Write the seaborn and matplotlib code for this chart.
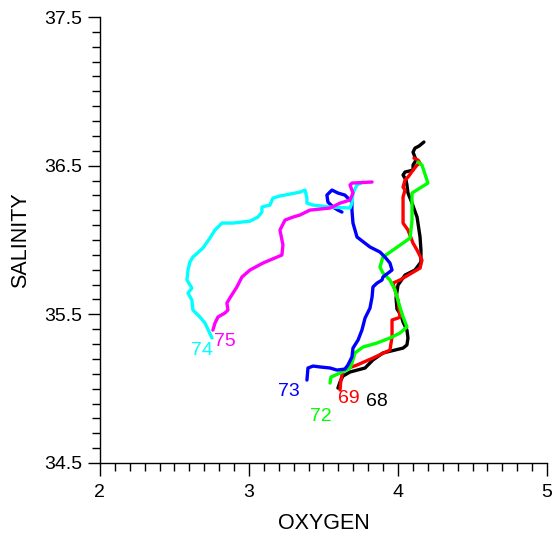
"""
Oxygen vs salinity profiles for stations 68-75
"""

import numpy as np
import pandas as pd
import matplotlib
matplotlib.use("Agg")
import matplotlib.pyplot as plt
import seaborn as sns
from matplotlib.ticker import MultipleLocator, FixedLocator

# station 68 (black)
ox_68 = [3.597, 3.611, 3.631, 3.678, 3.779, 3.832, 3.899, 4.034, 4.060, 4.067, 4.060, 4.034,
         4.020, 3.993, 3.987, 4.000, 4.047, 4.114, 4.154, 4.154, 4.148, 4.128, 4.094, 4.067,
         4.060, 4.054, 4.034, 4.047, 4.101, 4.101, 4.121, 4.101, 4.114, 4.141, 4.174]
sal_68 = [35.004, 35.045, 35.085, 35.112, 35.139, 35.193, 35.240, 35.273, 35.294, 35.341, 35.394, 35.448,
          35.495, 35.536, 35.610, 35.697, 35.764, 35.798, 35.852, 35.932, 36.020, 36.154, 36.248, 36.316,
          36.370, 36.403, 36.437, 36.457, 36.470, 36.504, 36.538, 36.591, 36.618, 36.632, 36.659]

# station 69 (red)
ox_69 = [3.611, 3.617, 3.631, 3.725, 3.832, 3.946, 3.960, 3.960, 4.000, 4.013, 4.000, 3.980,
         3.966, 4.013, 4.148, 4.161, 4.128, 4.101, 4.067, 4.034, 4.034, 4.034, 4.047, 4.034,
         4.047, 4.067, 4.101, 4.128, 4.148, 4.134, 4.107]
sal_69 = [34.991, 35.058, 35.125, 35.159, 35.206, 35.260, 35.347, 35.462, 35.475, 35.482, 35.596, 35.663,
          35.710, 35.731, 35.811, 35.865, 35.932, 35.979, 36.067, 36.114, 36.222, 36.289, 36.336, 36.356,
          36.403, 36.423, 36.470, 36.504, 36.517, 36.538, 36.551]

# station 72 (green)
ox_72 = [3.544, 3.550, 3.611, 3.678, 3.691, 3.711, 3.765, 3.859, 3.946, 4.013, 4.060, 4.034,
         4.013, 3.980, 3.946, 3.899, 3.879, 3.893, 3.899, 3.966, 4.081, 4.094, 4.094, 4.201,
         4.161, 4.134]
sal_72 = [35.038, 35.078, 35.105, 35.139, 35.172, 35.240, 35.280, 35.307, 35.341, 35.374, 35.415, 35.482,
          35.549, 35.663, 35.731, 35.778, 35.818, 35.865, 35.885, 35.932, 36.013, 36.134, 36.316, 36.383,
          36.504, 36.524]

# station 73 (blue)
ox_73 = [3.389, 3.396, 3.430, 3.477, 3.544, 3.591, 3.644, 3.664, 3.691, 3.698, 3.732, 3.758,
         3.779, 3.812, 3.826, 3.832, 3.859, 3.893, 3.899, 3.960, 3.946, 3.913, 3.879, 3.812,
         3.725, 3.698, 3.691, 3.691, 3.644, 3.597, 3.557, 3.523, 3.530, 3.564, 3.597, 3.624]
sal_73 = [35.058, 35.139, 35.152, 35.146, 35.139, 35.125, 35.132, 35.159, 35.213, 35.273, 35.327, 35.394,
          35.475, 35.542, 35.616, 35.684, 35.710, 35.731, 35.751, 35.798, 35.845, 35.885, 35.919, 35.953,
          36.020, 36.114, 36.201, 36.255, 36.302, 36.316, 36.336, 36.302, 36.255, 36.222, 36.201, 36.188]

# station 74 (cyan)
ox_74 = [2.752, 2.705, 2.671, 2.624, 2.617, 2.591, 2.617, 2.584, 2.591, 2.604, 2.624, 2.691,
         2.738, 2.772, 2.819, 2.893, 3.007, 3.060, 3.087, 3.087, 3.141, 3.161, 3.208, 3.275,
         3.342, 3.376, 3.389, 3.389, 3.430, 3.544, 3.678, 3.691, 3.698, 3.725, 3.765]
sal_74 = [35.341, 35.441, 35.482, 35.529, 35.596, 35.643, 35.677, 35.731, 35.798, 35.852, 35.885, 35.946,
          36.013, 36.067, 36.114, 36.114, 36.127, 36.154, 36.188, 36.222, 36.235, 36.282, 36.296, 36.309,
          36.322, 36.336, 36.282, 36.248, 36.235, 36.222, 36.215, 36.248, 36.316, 36.370, 36.390]

# station 75 (magenta)
ox_75 = [2.758, 2.772, 2.792, 2.839, 2.859, 2.852, 2.872, 2.919, 2.953, 3.007, 3.094, 3.221,
         3.228, 3.208, 3.242, 3.295, 3.342, 3.409, 3.544, 3.611, 3.678, 3.698, 3.678, 3.691, 3.826]
sal_75 = [35.394, 35.441, 35.482, 35.509, 35.529, 35.576, 35.610, 35.684, 35.751, 35.798, 35.845, 35.899,
          35.966, 36.067, 36.134, 36.154, 36.168, 36.201, 36.215, 36.248, 36.269, 36.316, 36.370, 36.383, 36.390]

stations = ["68", "69", "72", "73", "74", "75"]
colors = ["black", "#ff0000", "#00ff00", "#0000ff", "#00ffff", "#ff00ff"]
label_x = [3.859, 3.671, 3.483, 3.268, 2.685, 2.839]
label_y = [34.917, 34.937, 34.816, 34.984, 35.260, 35.320]
x_major = [2, 3, 4, 5]
y_major = [34.5, 35.5, 36.5, 37.5]

series = {"68": (ox_68, sal_68), "69": (ox_69, sal_69), "72": (ox_72, sal_72),
          "73": (ox_73, sal_73), "74": (ox_74, sal_74), "75": (ox_75, sal_75)}

frames = []
for st in stations:
    ox, sal = series[st]
    frames.append(pd.DataFrame({"oxygen": ox, "salinity": sal, "station": st,
                                "order": np.arange(len(ox))}))
df = pd.concat(frames, ignore_index=True)

sns.set_style("ticks")
plt.rcParams['font.family'] = ['Liberation Sans', 'DejaVu Sans']
plt.rcParams['text.color'] = 'black'
plt.rcParams['axes.labelcolor'] = 'black'
plt.rcParams['xtick.color'] = 'black'
plt.rcParams['ytick.color'] = 'black'

fig = plt.figure(figsize=(5.52, 5.40), dpi=100)
ax = fig.add_axes([0.181, 0.1426, 0.810, 0.8259])

sns.lineplot(data=df, x="oxygen", y="salinity", hue="station", palette=dict(zip(stations, colors)),
             sort=False, estimator=None, units="station", legend=False, linewidth=2.4, ax=ax)

for st, c, lx, ly in zip(stations, colors, label_x, label_y):
    ax.text(lx, ly, st, color=c, fontsize=14, ha="center", va="center")

ax.set_xlim(2, 5)
ax.set_ylim(34.5, 37.5)
ax.xaxis.set_major_locator(FixedLocator(x_major))
ax.xaxis.set_minor_locator(MultipleLocator(0.1))
ax.yaxis.set_major_locator(FixedLocator(y_major))
ax.yaxis.set_minor_locator(MultipleLocator(0.1))
ax.set_yticklabels([f"{v:.1f}" for v in y_major])
ax.tick_params(which="major", length=9, width=1, labelsize=14, direction="out", colors="black")
ax.tick_params(which="minor", length=5.5, width=1, direction="out", color="black")
ax.tick_params(axis="x", which="major", pad=6)
ax.tick_params(axis="y", which="major", pad=4)
for s in ["top", "right"]:
    ax.spines[s].set_visible(False)
for s in ["left", "bottom"]:
    ax.spines[s].set_color("black")
    ax.spines[s].set_linewidth(1)

ax.set_xlabel("OXYGEN", fontsize=15.5, labelpad=9, color="black")
ax.set_ylabel("SALINITY", fontsize=15.5, labelpad=9, color="black")

fig.savefig("out.png", dpi=100)
